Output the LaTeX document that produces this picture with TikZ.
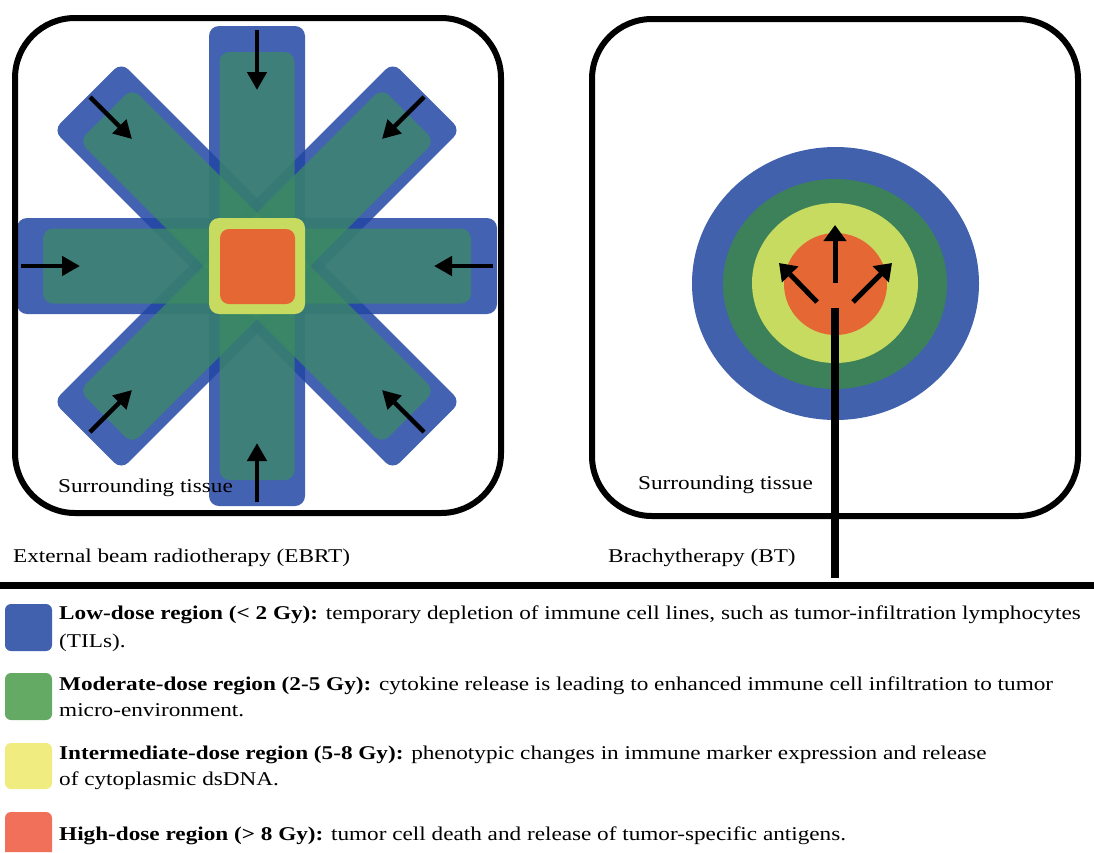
\documentclass[tikz,border=0pt]{standalone}
\usepackage{fontspec}
\setmainfont{Liberation Serif}[FakeStretch=1.19]
\usetikzlibrary{arrows.meta}
\definecolor{beamblue}{RGB}{35,70,165}
\definecolor{beamgreen}{RGB}{60,141,97}
\definecolor{dyellow}{RGB}{198,219,96}
\definecolor{dorange}{RGB}{229,104,52}
\definecolor{rblue}{RGB}{65,97,173}
\definecolor{rgreen}{RGB}{60,129,89}
\definecolor{lblue}{RGB}{65,97,175}
\definecolor{lgreen}{RGB}{100,170,100}
\definecolor{lyellow}{RGB}{240,236,128}
\definecolor{lorange}{RGB}{240,112,90}
\begin{document}
\begin{tikzpicture}[x=1pt,y=-1pt,
  txt/.style={inner sep=0pt, anchor=base west, font=\fontsize{19.5}{24}\selectfont},
  frame/.style={line width=6pt, rounded corners=60pt},
  beamout/.style={fill=beamblue, fill opacity=0.85, rounded corners=10pt},
  beamin/.style={fill=beamgreen, fill opacity=0.7, rounded corners=10pt},
  ray/.style={line width=4.5pt, -{Triangle[length=18pt,width=19pt]}},
  bray/.style={line width=5pt, -{Triangle[length=16pt,width=22pt]}},
  swatch/.style={rounded corners=6pt}]
\useasboundingbox (0,0) rectangle (1094,852);
% ---------- EBRT ----------
\foreach \a in {0,45,90,135}
  \fill[beamout, rotate around={\a:(257,266)}] (17,218) rectangle (497,314);
\foreach \a in {0,45,90,135}
  \fill[beamin, rotate around={\a:(257,266)}] (43,228.5) rectangle (471,303.5);
\fill[dyellow, rounded corners=10pt] (209,218) rectangle (305,314);
\fill[dorange, rounded corners=9pt] (220,229) rectangle (295,304);
\draw[frame] (15,18) rectangle (501,513);
\coordinate (t1) at (257,30);  \coordinate (t2) at (257,90);
\coordinate (b1) at (257,502); \coordinate (b2) at (257,443);
\coordinate (l1) at (21,266);  \coordinate (l2) at (80,266);
\coordinate (r1) at (493,266); \coordinate (r2) at (434,266);
\coordinate (nw1) at (90,97);  \coordinate (nw2) at (132,139);
\coordinate (ne1) at (424,97); \coordinate (ne2) at (382,139);
\coordinate (sw1) at (90,432); \coordinate (sw2) at (132,390);
\coordinate (se1) at (424,432);\coordinate (se2) at (382,390);
\foreach \p in {t,b,l,r,nw,ne,sw,se}
  \draw[ray] (\p1) -- (\p2);
\node[txt] (st1) at (58,492) {Surrounding tissue};
\node[txt] (ebrt) at (13,562) {External beam radiotherapy (EBRT)};
% ---------- BT ----------
\fill[rblue] (835.5,283.5) ellipse [x radius=143.5, y radius=136.5];
\fill[rgreen] (835,284) ellipse [x radius=112, y radius=105];
\fill[dyellow] (835,283) ellipse [x radius=83, y radius=80];
\fill[dorange] (835.5,284) ellipse [x radius=51.5, y radius=51];
\draw[frame] (592,19) rectangle (1078,516);
\coordinate (bv1) at (835,283); \coordinate (bv2) at (835,225);
\coordinate (bl1) at (817,302); \coordinate (bl2) at (779,263);
\coordinate (br1) at (853,302); \coordinate (br2) at (892,263);
\foreach \p in {bv,bl,br}
  \draw[bray] (\p1) -- (\p2);
\coordinate (cath1) at (835,308); \coordinate (cath2) at (835,578);
\draw[line width=8pt] (cath1) -- (cath2);
\node[txt] (st2) at (638,489) {Surrounding tissue};
\node[txt] (bt) at (608,562) {Brachytherapy (BT)};
% ---------- separator ----------
\coordinate (sepL) at (0,585.5); \coordinate (sepR) at (1094,585.5);
\draw[line width=7pt] (sepL) -- (sepR);
% ---------- legend ----------
\fill[swatch, lblue] (5,604) rectangle (52,651);
\fill[swatch, lgreen] (5,673) rectangle (52,720);
\fill[swatch, lyellow] (5,743) rectangle (52,789);
\fill[lorange] (5,852) [rounded corners=6pt]-- (5,812) -- (52,812) [sharp corners]-- (52,852) -- cycle;
\node[txt] (low1) at (59,619) {\textbf{Low-dose region (< 2 Gy):} temporary depletion of immune cell lines, such as tumor-infiltration lymphocytes};
\node[txt] (low2) at (59,647) {(TILs).};
\node[txt] (mod1) at (59,690) {\textbf{Moderate-dose region (2-5 Gy):} cytokine release is leading to enhanced immune cell infiltration to tumor};
\node[txt] (mod2) at (59,716) {micro-environment.};
\node[txt] (int1) at (59,759) {\textbf{Intermediate-dose region (5-8 Gy):} phenotypic changes in immune marker expression and release};
\node[txt] (int2) at (59,785) {of cytoplasmic dsDNA.};
\node[txt] (high) at (59,840) {\textbf{High-dose region (> 8 Gy):} tumor cell death and release of tumor-specific antigens.};
\end{tikzpicture}
\end{document}
